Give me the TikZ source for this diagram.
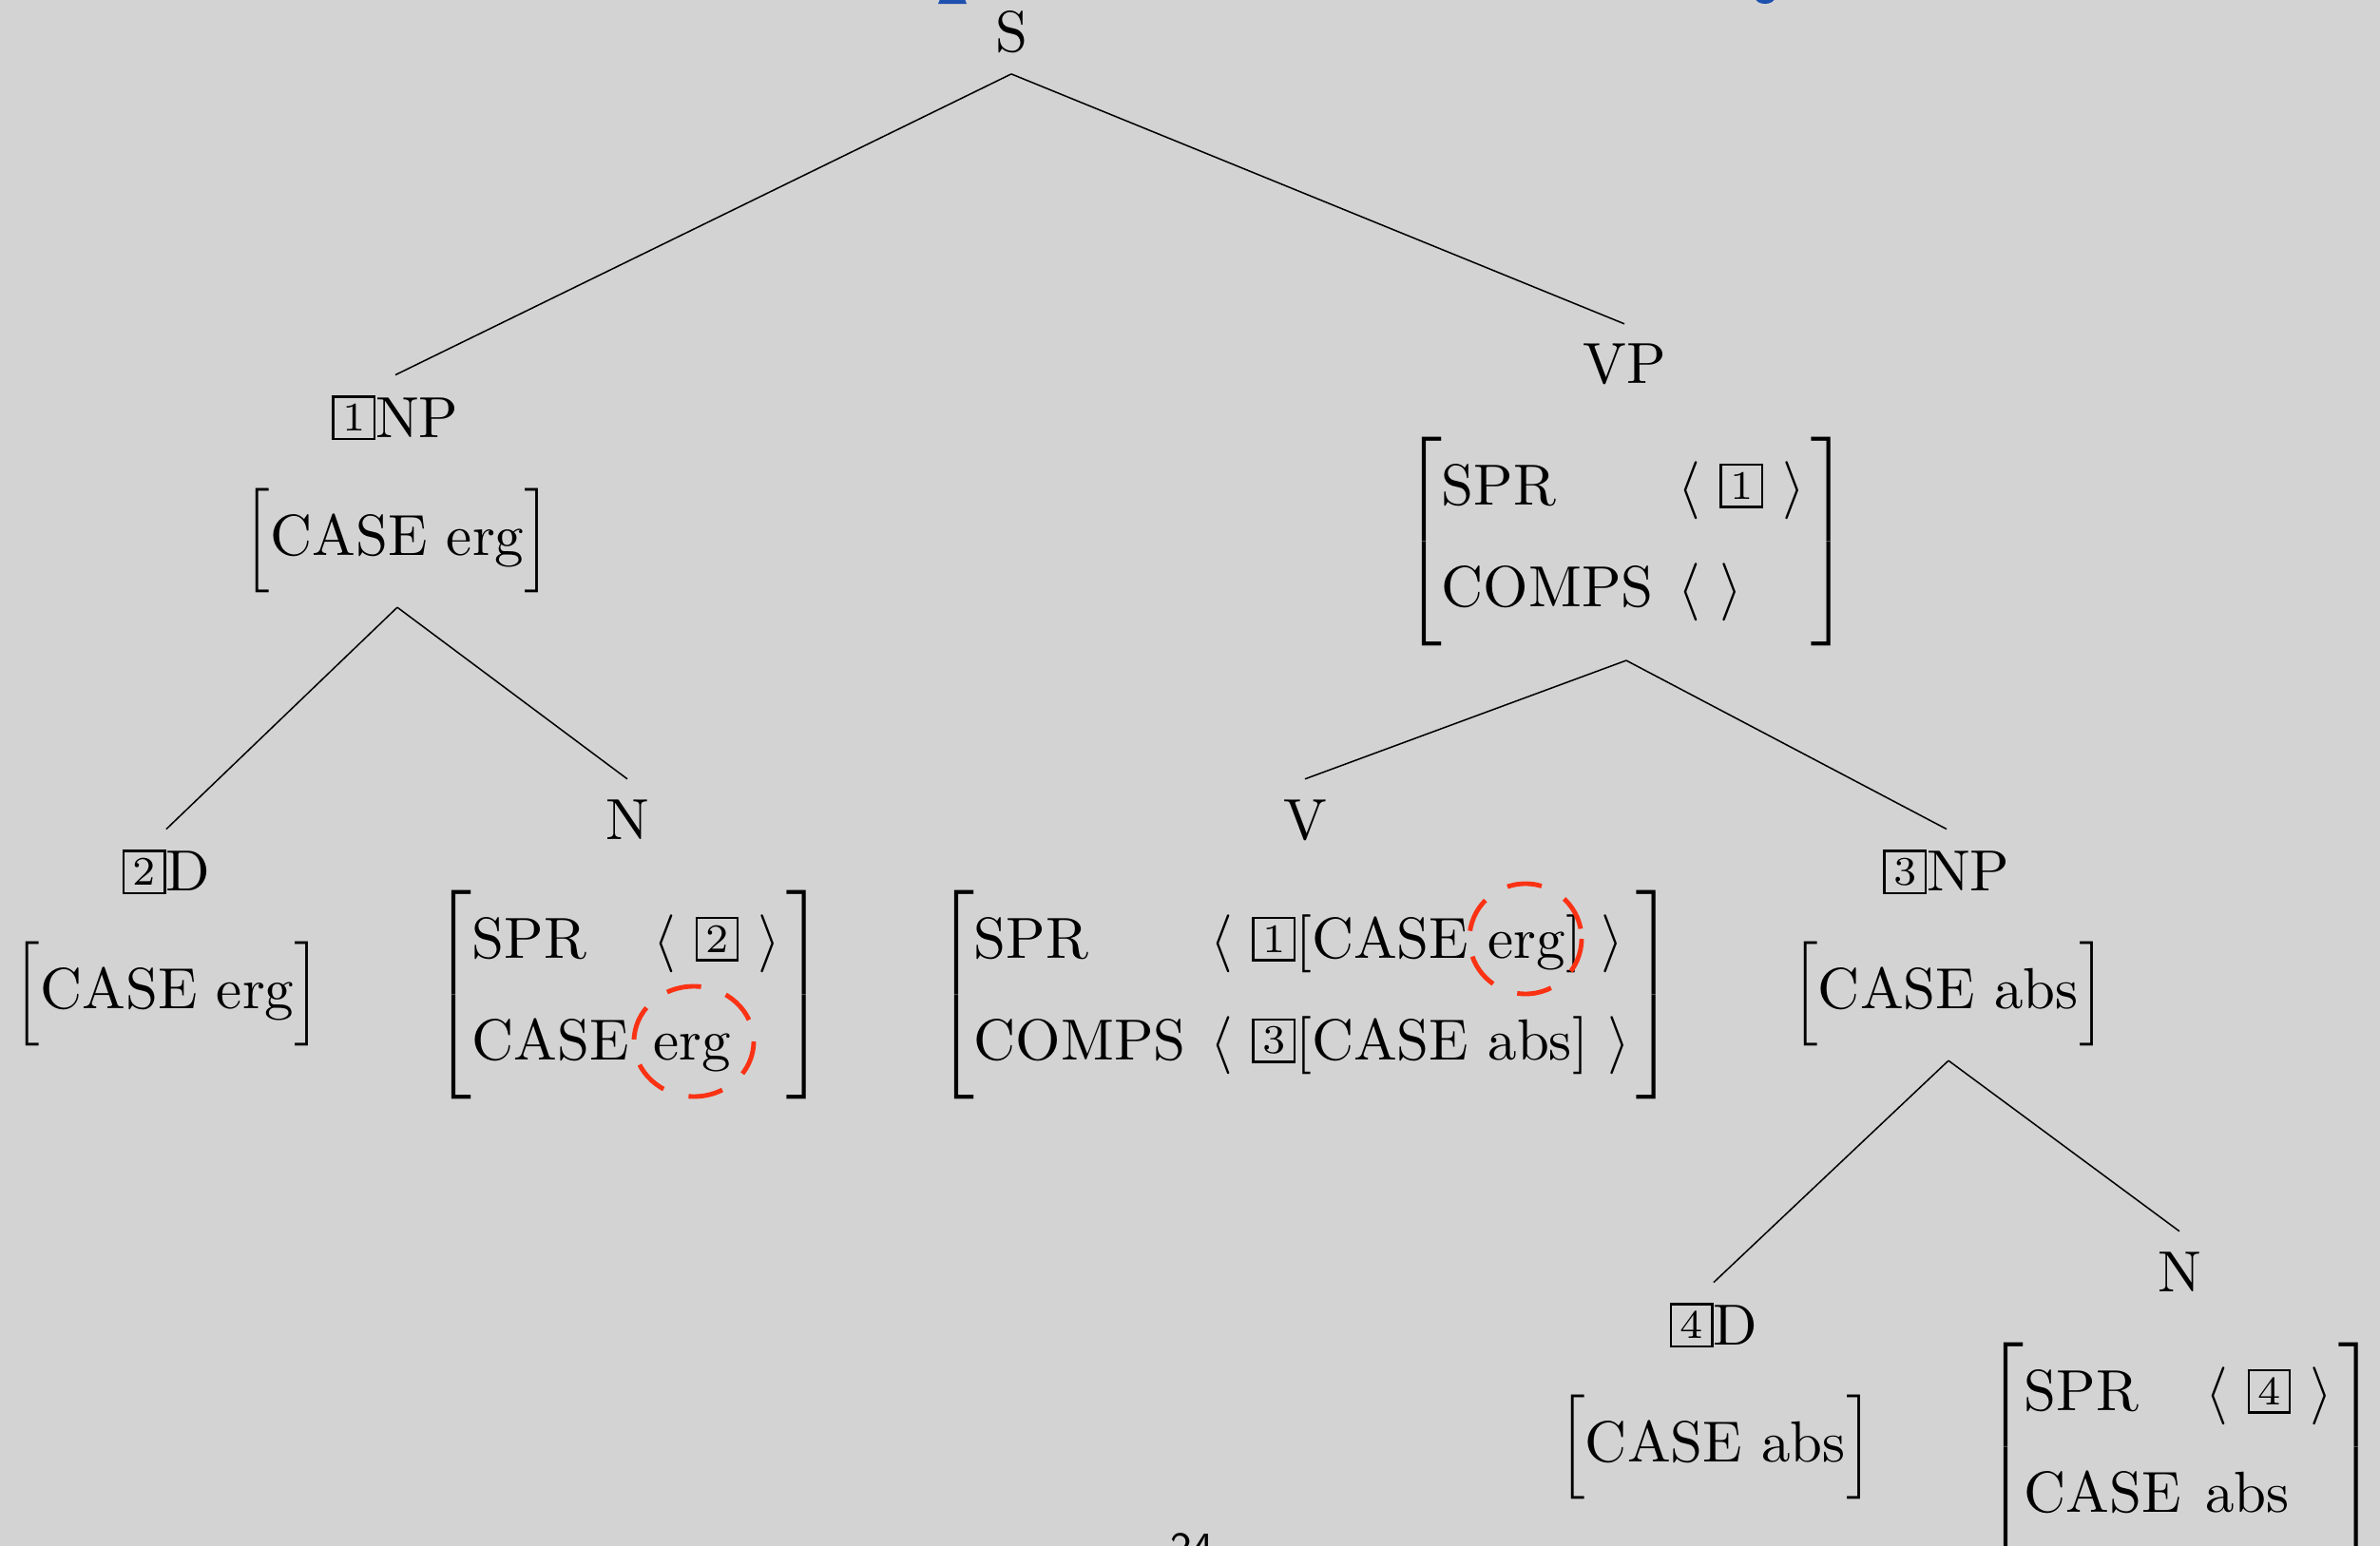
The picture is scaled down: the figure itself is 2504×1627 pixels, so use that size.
\documentclass[tikz,border=0pt]{standalone}
\usepackage{amsmath}
\usepackage{array}
\definecolor{bgc}{RGB}{211,211,211}
\definecolor{circred}{RGB}{250,50,20}
\definecolor{titleblue}{RGB}{30,80,175}
\newcommand{\tagbox}[1]{{\setlength{\fboxsep}{0pt}\setlength{\fboxrule}{0.4pt}\fbox{\makebox[6.7pt]{\rule[-0.1pt]{0pt}{6.9pt}\raisebox{1.1pt}{\scriptsize #1}}}}}
\newcommand{\rowA}{\rule[-6.3pt]{0pt}{17.75pt}}
\newcommand{\rowB}{\rule[-6.45pt]{0pt}{17.65pt}}
\newcommand{\avmtwo}[4]{$\renewcommand{\arraystretch}{0}\left[\begin{array}{@{}l@{\hspace{4.2pt}}l@{\hspace{1pt}}}\rowA\text{#1} & #2\\ \rowB\text{#3} & #4\end{array}\right]$}
\newcommand{\avmone}[1]{$\Big[\text{#1}\Big]$}
\tikzset{
  lbl/.style={anchor=base, inner sep=3.33pt},
  avmnode/.style={anchor=center, inner xsep=0pt, inner ysep=2.3pt},
  branch/.style={line width=0.25pt, black},
  redcirc/.style={draw=circred, line width=0.8pt, dash pattern=on 6pt off 4.5pt}
}
\begin{document}
\begin{tikzpicture}[x=0.16393pt, y=-0.16393pt]
\useasboundingbox (0,0) rectangle (2504,1627);
\fill[bgc] (0,0) rectangle (2504,1627);
% cut-off title fragments and page number
\fill[titleblue] (987,4) -- (1017,4) -- (1013,-6) -- (991,-6) -- cycle;
\fill[titleblue] (1857,-2) ellipse [x radius=10, y radius=6];
\node[font=\sffamily\fontsize{7}{8}\selectfont, anchor=base] (pg) at (1254,1642) {24};

% tree labels
\node[lbl] (S) at (1064,55) {S};
\node[lbl] (NP1) at (416,460) {\tagbox{1}NP};
\node[avmnode] (NP1avm) at (418,569) {\avmone{CASE erg}};
\node[lbl] (VP) at (1709,404) {VP};
\node[avmnode] (VPavm) at (1711,570) {\avmtwo{SPR}{\langle\ \tagbox{1}\ \rangle}{COMPS}{\langle\ \rangle}};
\node[lbl] (D2) at (175,938) {\tagbox{2}D};
\node[avmnode] (D2avm) at (176,1046) {\avmone{CASE erg}};
\node[lbl] (N1) at (660,883) {N};
\node[avmnode] (N1avm) at (662,1047) {\avmtwo{SPR}{\langle\ \tagbox{2}\ \rangle}{CASE}{\text{erg}}};
\node[lbl] (V) at (1373,883) {V};
\node[avmnode] (Vavm) at (1373,1047) {\avmtwo{SPR}{\langle\ \tagbox{1}[\text{CASE erg}]\ \rangle}{COMPS}{\langle\ \tagbox{3}[\text{CASE abs}]\ \rangle}};
\node[lbl] (NP3) at (2048,938) {\tagbox{3}NP};
\node[avmnode] (NP3avm) at (2050,1046) {\avmone{CASE abs}};
\node[lbl] (D4) at (1803,1415) {\tagbox{4}D};
\node[avmnode] (D4avm) at (1805,1523) {\avmone{CASE abs}};
\node[lbl] (N2) at (2293,1359) {N};
\node[avmnode] (N2avm) at (2295,1523) {\avmtwo{SPR}{\langle\ \tagbox{4}\ \rangle}{CASE}{\text{abs}}};

% branches
\draw[branch] (S.south) -- (NP1.north);
\draw[branch] (S.south) -- (VP.north);
\draw[branch] (NP1avm.south) -- (D2.north);
\draw[branch] (NP1avm.south) -- (N1.north);
\draw[branch] (VPavm.south) -- (V.north);
\draw[branch] (VPavm.south) -- (NP3.north);
\draw[branch] (NP3avm.south) -- (D4.north);
\draw[branch] (NP3avm.south) -- (N2.north);

% highlight circles
\draw[redcirc] (730,1096) ellipse [x radius=63, y radius=58];
\draw[redcirc] (1605,988) ellipse [x radius=59, y radius=58];
\end{tikzpicture}
\end{document}
